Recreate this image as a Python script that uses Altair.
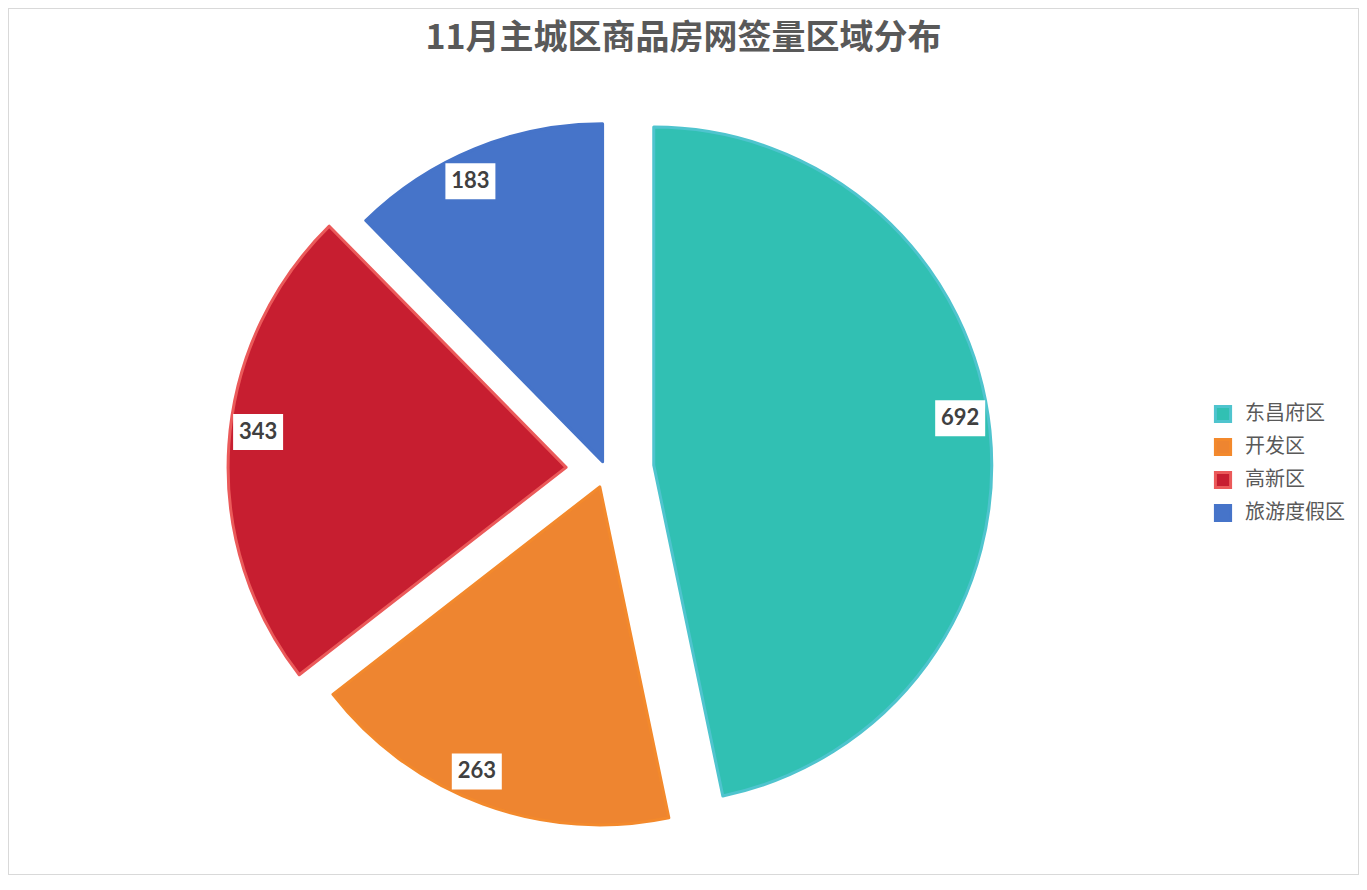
import altair as alt
import pandas as pd

# ---- data ----
regions = ["东昌府区", "开发区", "高新区", "旅游度假区"]
values = [692, 263, 343, 183]

# ---- style ----
fills = ["#31C0B3", "#EE8530", "#C71E30", "#4674C9"]
strokes = ["#4FC4CE", "#F3892C", "#EB5A5A", "#4674C9"]
explode = [48, 18, 40, 9]             # per-slice explosion (px)
label_nudge = [-2.8, 3.2, 2.7, -3.0]  # label angle nudge (degrees)
CX, CY, R, LR = 598, 462, 338, 310    # pie centre, radius, label radius

df = pd.DataFrame({
    "region": regions,
    "value": values,
    "order": list(range(len(regions))),
    "explode": explode,
    "nudge": label_nudge,
})

base = (
    alt.Chart(df)
    .transform_joinaggregate(total="sum(value)")
    .transform_window(cum="sum(value)", sort=[alt.SortField("order")], frame=[None, 0])
    .transform_calculate(
        a0="2*PI*(datum.cum - datum.value)/datum.total",
        a1="2*PI*datum.cum/datum.total",
    )
    .transform_calculate(mid="(datum.a0 + datum.a1)/2")
    .transform_calculate(
        cx=f"{CX} + datum.explode*sin(datum.mid)",
        cy=f"{CY} - datum.explode*cos(datum.mid)",
        la="datum.mid + datum.nudge*PI/180",
    )
    .transform_calculate(
        lx=f"datum.cx + {LR}*sin(datum.la)",
        ly=f"datum.cy - {LR}*cos(datum.la)",
    )
    .transform_calculate(
        bx0="datum.lx - 25", bx1="datum.lx + 25",
        by0="datum.ly - 18", by1="datum.ly + 18",
    )
)

leg = alt.Legend(
    title=None, orient="none", legendX=1205, legendY=396,
    symbolType="square", symbolSize=230, symbolStrokeWidth=3,
    labelFont="Noto Sans CJK SC", labelFontSize=20, labelColor="#595959",
    rowPadding=5, labelOffset=12,
)

arcs = base.mark_arc(radius=R, strokeWidth=3, strokeJoin="round").encode(
    x=alt.X("cx:Q", scale=None, axis=None),
    y=alt.Y("cy:Q", scale=None, axis=None),
    theta=alt.Theta("a0:Q", scale=None, stack=None),
    theta2=alt.Theta2("a1:Q"),
    fill=alt.Fill("region:N", scale=alt.Scale(domain=regions, range=fills), sort=regions, legend=leg),
    stroke=alt.Stroke("region:N", scale=alt.Scale(domain=regions, range=strokes), sort=regions, legend=leg),
    order=alt.Order("order:Q"),
)

boxes = base.mark_rect(color="white").encode(
    x=alt.X("bx0:Q", scale=None, axis=None),
    x2="bx1:Q",
    y=alt.Y("by0:Q", scale=None, axis=None),
    y2="by1:Q",
)

labels = base.mark_text(
    font="Lato", fontSize=22, fontWeight="bold", color="#404040",
    align="center", baseline="middle",
).encode(
    x=alt.X("lx:Q", scale=None, axis=None),
    y=alt.Y("ly:Q", scale=None, axis=None),
    text=alt.Text("value:Q"),
)

chart = (
    alt.layer(arcs, boxes, labels)
    .properties(
        width=1351, height=867, padding=0, autosize="none",
        title=alt.TitleParams(
            "11月主城区商品房网签量区域分布",
            font="Noto Sans CJK SC", fontSize=34, fontWeight="bold",
            color="#595959", anchor="middle", offset=0, dy=48,
        ),
    )
    .configure_view(stroke="#D9D9D9", strokeWidth=2)
)

chart.save("out.html", embed_options={"renderer": "svg", "actions": False})
